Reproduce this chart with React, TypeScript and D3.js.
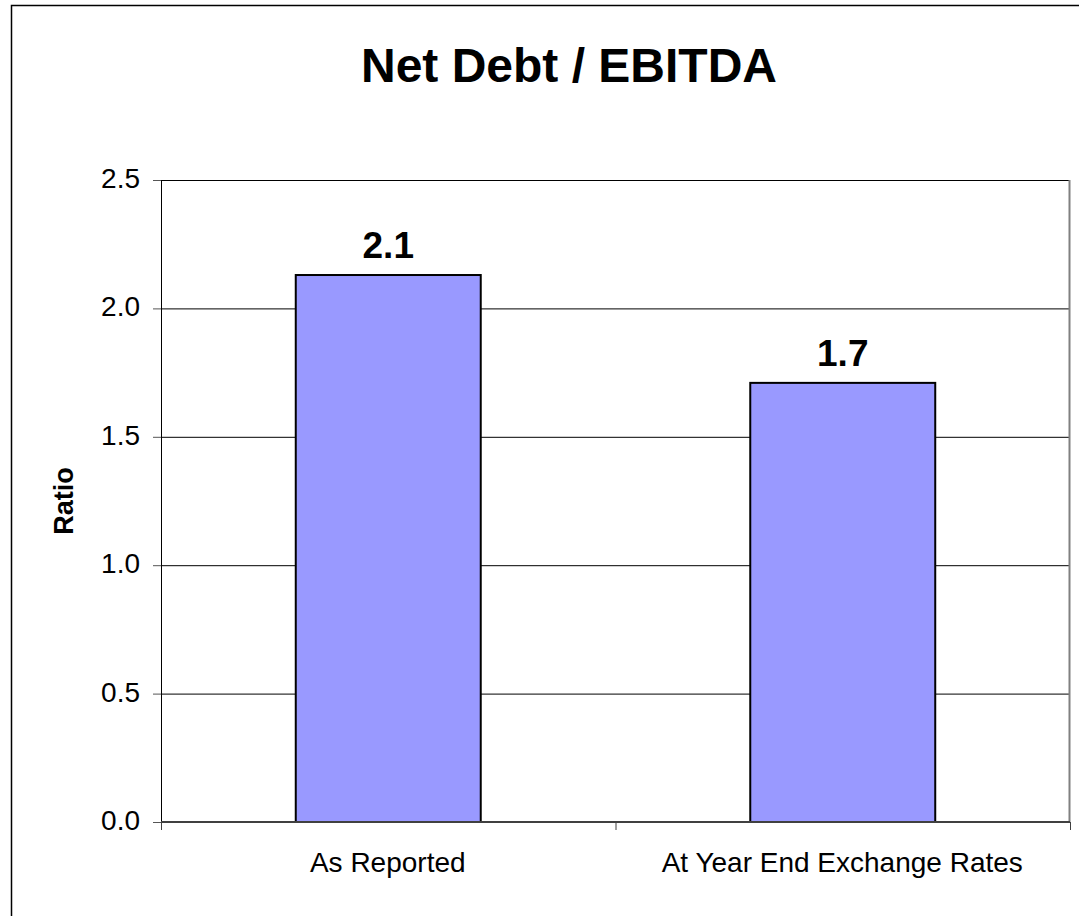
import React from "react";
import * as d3 from "d3";

const categories = ["As Reported", "At Year End Exchange Rates"];
const values = [2.13, 1.71];
const yTicks = [0, 0.5, 1.0, 1.5, 2.0, 2.5];
const title = "Net Debt / EBITDA";
const yLabel = "Ratio";

export default function App() {
  const W = 1079, H = 916;
  const left = 161, right = 1070, top = 180, bottom = 822;
  const x = d3.scaleBand<string>().domain(categories).range([left, right]).paddingInner(0.593).paddingOuter(0.2965);
  const y = d3.scaleLinear().domain([0, 2.5]).range([bottom, top]);
  const font = "Arial, 'Liberation Sans', sans-serif";
  const step = (right - left) / categories.length;
  return (
    <svg width={W} height={H} style={{ position: "absolute", left: 0, top: 0 }}>
      <rect x={0} y={0} width={W} height={H} fill="#fff" />
      <rect x={11.5} y={5.5} width={W + 10} height={H + 10} fill="none" stroke="#000" strokeWidth={1.5} />
      <text x={569} y={82} textAnchor="middle" fontFamily={font} fontWeight="bold" fontSize={48}>{title}</text>
      {yTicks.map((t) => (
        <g key={t}>
          {t > 0 && <line x1={left} x2={right} y1={y(t) + 0.5} y2={y(t) + 0.5} stroke="#000" strokeWidth={1} />}
          <line x1={153} x2={left} y1={y(t) + 0.5} y2={y(t) + 0.5} stroke="#555" strokeWidth={1} />
          <text x={140} y={y(t) + 8} textAnchor="end" fontFamily={font} fontSize={28}>{t.toFixed(1)}</text>
        </g>
      ))}
      <line x1={right - 0.5} x2={right - 0.5} y1={top} y2={bottom} stroke="#808080" strokeWidth={2} />
      <line x1={left + 0.5} x2={left + 0.5} y1={top} y2={bottom + 8} stroke="#000" strokeWidth={1} />
      {categories.map((c, i) => {
        const bx = x(c)!;
        const by = y(values[i]);
        return (
          <g key={c}>
            <rect x={bx} y={by} width={x.bandwidth()} height={bottom - by} fill="#9999FF" stroke="#000" strokeWidth={2} />
            <text x={bx + x.bandwidth() / 2} y={by - 17} textAnchor="middle" fontFamily={font} fontWeight="bold" fontSize={37}>{values[i].toFixed(1)}</text>
            <text x={left + step * (i + 0.5) - 0.5} y={872} textAnchor="middle" fontFamily={font} fontSize={28}>{c}</text>
          </g>
        );
      })}
      <line x1={left} x2={right} y1={bottom} y2={bottom} stroke="#404040" strokeWidth={2} />
      {[0, 1, 2].map((i) => (
        <line key={i} x1={left + step * i + 0.5} x2={left + step * i + 0.5} y1={bottom} y2={bottom + 8} stroke="#404040" strokeWidth={1} />
      ))}
      <text transform={`translate(73,${(top + bottom) / 2}) rotate(-90)`} textAnchor="middle" fontFamily={font} fontWeight="bold" fontSize={27}>{yLabel}</text>
    </svg>
  );
}
